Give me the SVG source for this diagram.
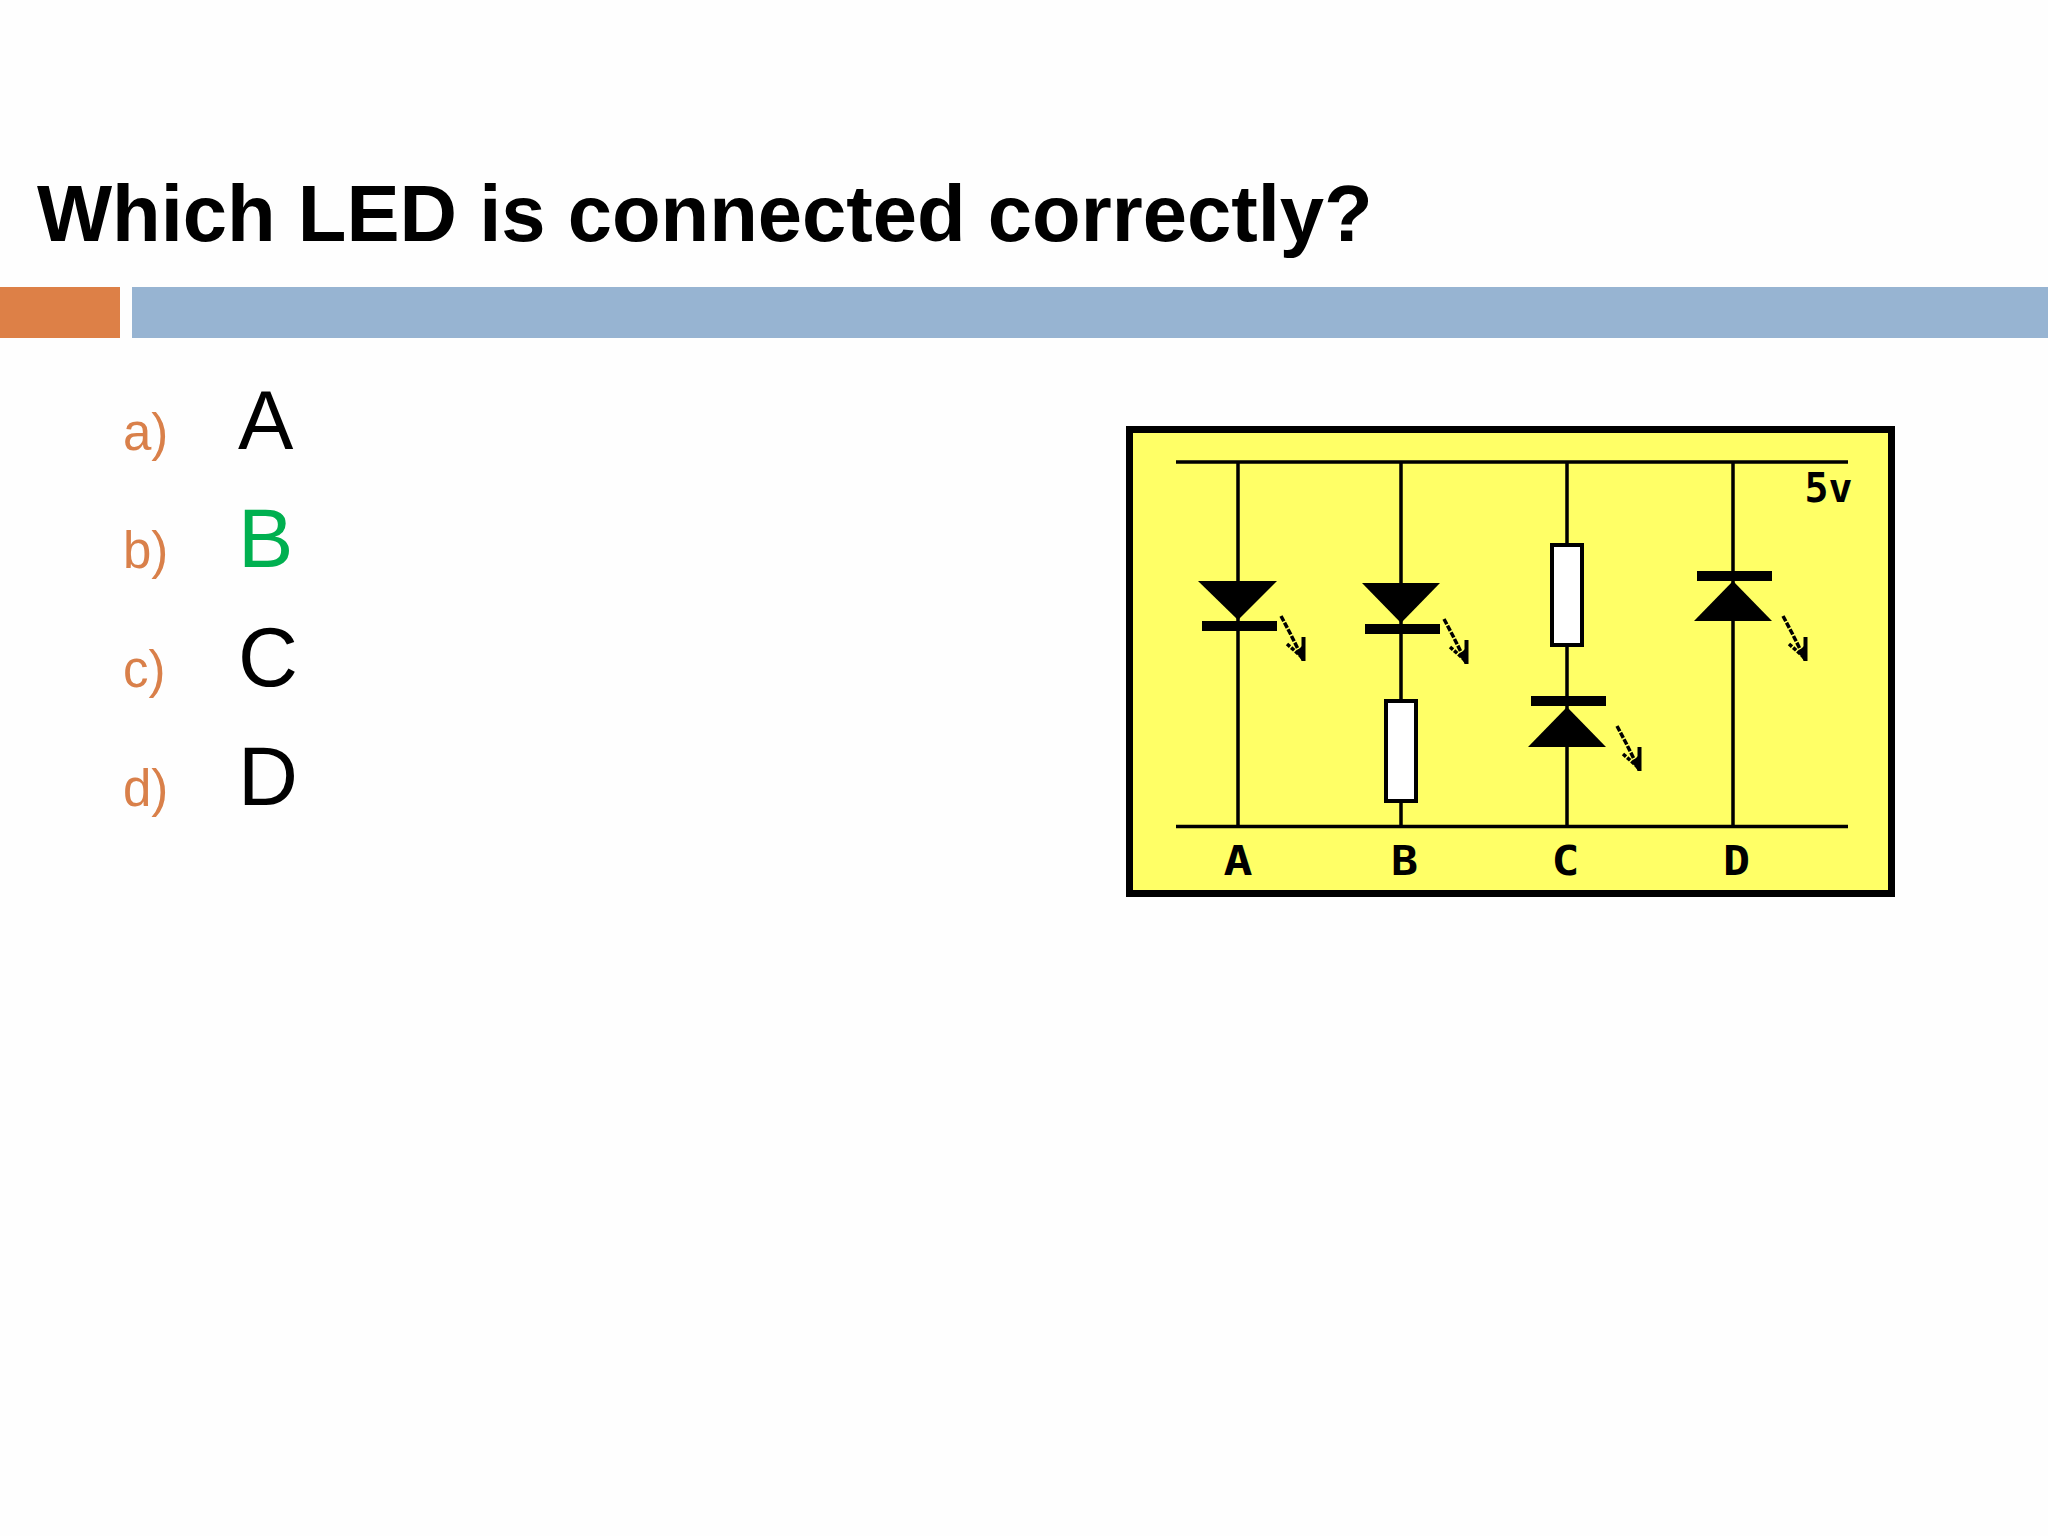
<svg xmlns="http://www.w3.org/2000/svg" width="2048" height="1536" viewBox="0 0 2048 1536">
<style>
.t{font-family:"Liberation Sans",Arial,sans-serif}
.title{font-size:79.6px;font-weight:bold;fill:#000}
.num{font-size:51px;fill:#D9804A}
.opt{font-size:83px;fill:#000}
.wire{stroke:#000;stroke-width:3.5;fill:none}
.res{fill:#fff;stroke:#000;stroke-width:4}
.lab{font-family:"DejaVu Sans Mono",monospace;font-weight:bold;font-size:41px;fill:#000;text-anchor:middle}
</style>
<defs>
<g id="ray">
<path d="M0 0L9 17L22 43" stroke="#000" stroke-width="3.5" stroke-dasharray="6 1.500" fill="none"/>
<path d="M6 28L22 42" stroke="#000" stroke-width="3.5" stroke-dasharray="4 1.500" fill="none"/>
<path d="M22.500 21V45" stroke="#000" stroke-width="4" fill="none"/>
<path d="M15 36L21 30V45Z" fill="#000"/>
</g>
</defs>
<rect width="2048" height="1536" fill="#FEFEFE"/>
<text class="t title" x="37" y="241">Which LED is connected correctly?</text>
<rect id="accent" x="0" y="287" width="120" height="51" fill="#DD8047"/>
<rect id="band" x="132" y="287" width="1916" height="51" fill="#97B4D2"/>
<g id="list">
<text class="t num" x="123" y="450">a)</text>
<text class="t opt" x="238" y="449">A</text>
<text class="t num" x="123" y="568">b)</text>
<text class="t opt" x="238" y="567" style="fill:#00B050">B</text>
<text class="t num" x="123" y="687">c)</text>
<text class="t opt" x="238" y="686">C</text>
<text class="t num" x="123" y="806">d)</text>
<text class="t opt" x="238" y="805">D</text>
</g>
<g id="board"><rect x="1129.500" y="429.500" width="762" height="464" fill="#FFFF66" stroke="#000" stroke-width="7"/></g>
<g id="connectors">
<path class="wire" d="M1176 462H1848M1176 826.500H1848M1238 462V826M1401 462V699M1401 803V826M1567 462V543M1567 646V826M1733 462V826"/>
</g>
<g id="led-a">
<path d="M1198 581H1277L1238 620Z"/><rect x="1202" y="621" width="75" height="10"/>
<use href="#ray" x="1281" y="616"/>
<text class="lab" x="1238" y="875" textLength="29" lengthAdjust="spacingAndGlyphs">A</text>
</g>
<g id="led-b">
<path d="M1362 583H1440L1401 623Z"/><rect x="1365" y="624" width="75" height="10"/>
<use href="#ray" x="1444" y="619"/>
<rect class="res" x="1386" y="701" width="30" height="100"/>
<text class="lab" x="1404.500" y="875" textLength="27" lengthAdjust="spacingAndGlyphs">B</text>
</g>
<g id="led-c">
<rect class="res" x="1552" y="545" width="30" height="100"/>
<rect x="1531" y="696" width="75" height="10"/><path d="M1528 747H1606L1567 707Z"/>
<use href="#ray" x="1617" y="726"/>
<text class="lab" x="1565.500" y="875" textLength="28" lengthAdjust="spacingAndGlyphs">C</text>
</g>
<g id="led-d">
<rect x="1697" y="571" width="75" height="10"/><path d="M1694 621H1772L1733 581Z"/>
<use href="#ray" x="1783" y="616"/>
<text class="lab" x="1736.500" y="875" textLength="27" lengthAdjust="spacingAndGlyphs">D</text>
</g>
<text class="lab" x="1828.500" y="502" textLength="48" lengthAdjust="spacingAndGlyphs">5v</text>
</svg>
